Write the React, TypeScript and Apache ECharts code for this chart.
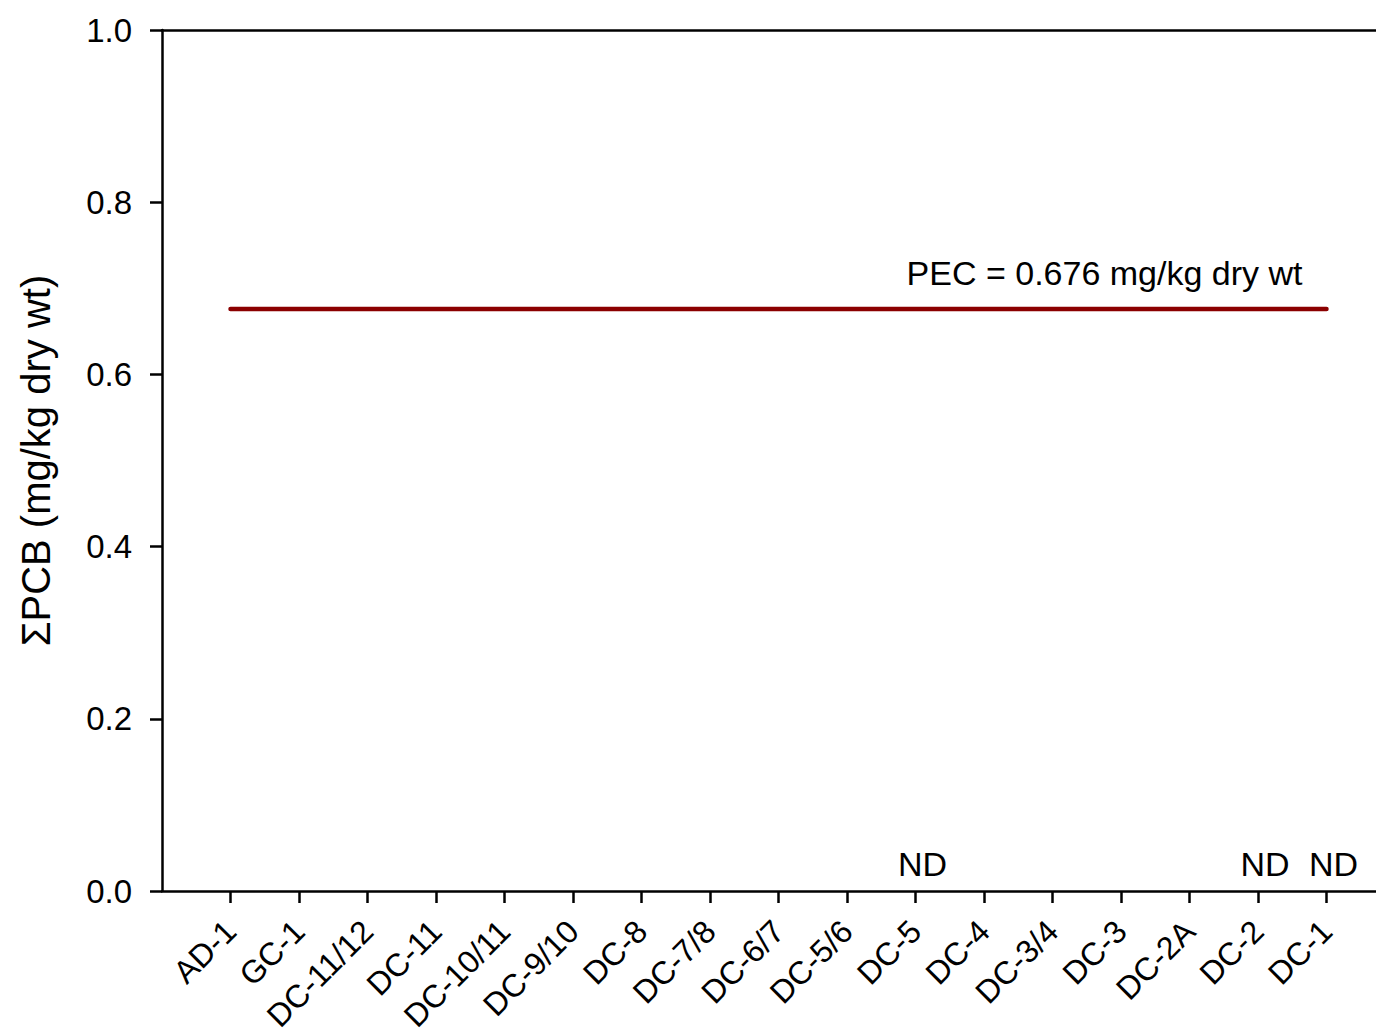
import React, { useEffect, useRef } from "react";
import * as echarts from "echarts";

const stations = [
  "AD-1", "GC-1", "DC-11/12", "DC-11", "DC-10/11", "DC-9/10", "DC-8", "DC-7/8",
  "DC-6/7", "DC-5/6", "DC-5", "DC-4", "DC-3/4", "DC-3", "DC-2A", "DC-2", "DC-1",
];
const ndStations = ["DC-5", "DC-2", "DC-1"];
const pecValue = 0.676;
const pecLabel = "PEC = 0.676 mg/kg dry wt";
const yTicks = [0, 0.2, 0.4, 0.6, 0.8, 1.0];
const yTitle = "ΣPCB (mg/kg dry wt)";

// padded categories so the plot frame starts one step before the first station
const categories = ["", ...stations, ""];

const FONT = "'Liberation Sans', Arial, Helvetica, sans-serif";

export default function App() {
  const ref = useRef<HTMLDivElement>(null);
  useEffect(() => {
    document.body.style.margin = "0";
    const chart = echarts.init(ref.current!, null, { renderer: "svg" });
    const axisColor = "#000";
    chart.setOption({
      animation: false,
      backgroundColor: "#fff",
      textStyle: { fontFamily: FONT },
      grid: {
        left: 162,
        top: 30,
        width: 1233,
        height: 861,
        containLabel: false,
        outerBoundsMode: "none",
      },
      xAxis: [
        {
          type: "category",
          data: categories,
          boundaryGap: false,
          axisLine: { lineStyle: { color: axisColor, width: 2.5 } },
          axisTick: {
            length: 12,
            interval: (i: number) => i > 0 && i < categories.length - 1,
            lineStyle: { color: axisColor, width: 2.5 },
          },
          axisLabel: {
            interval: 0,
            rotate: 45,
            margin: 35,
            fontSize: 32,
            color: "#000",
            fontFamily: FONT,
          },
          splitLine: { show: false },
        },
        {
          type: "category",
          data: categories,
          boundaryGap: false,
          position: "top",
          axisLine: { lineStyle: { color: axisColor, width: 2.5 } },
          axisTick: { show: false },
          axisLabel: { show: false },
        },
      ],
      yAxis: {
        type: "value",
        min: yTicks[0],
        max: yTicks[yTicks.length - 1],
        interval: 0.2,
        name: yTitle,
        nameLocation: "middle",
        nameGap: 106,
        nameTextStyle: { fontSize: 40, color: "#000", fontFamily: FONT },
        axisLine: { show: true, lineStyle: { color: axisColor, width: 2.5 } },
        axisTick: { show: true, length: 12, lineStyle: { color: axisColor, width: 2.5 } },
        axisLabel: {
          margin: 30,
          fontSize: 33,
          color: "#000",
          fontFamily: FONT,
          formatter: (v: number) => v.toFixed(1),
        },
        splitLine: { show: false },
      },
      series: [
        {
          type: "line",
          data: stations.map((s) => [s, pecValue]),
          symbol: "none",
          lineStyle: { color: "#8b0000", width: 4.5, cap: "round" },
          z: 3,
        },
        {
          type: "scatter",
          data: [[stations[stations.length - 1], pecValue]],
          symbolSize: 0,
          itemStyle: { opacity: 1 },
          label: {
            show: true,
            formatter: pecLabel,
            position: "inside",
            align: "right",
            verticalAlign: "middle",
            offset: [-24, -36],
            fontSize: 34,
            color: "#000",
            opacity: 1,
            textBorderWidth: 0,
            fontFamily: FONT,
          },
        },
        {
          type: "scatter",
          data: ndStations.map((s) => [s, 0]),
          symbolSize: 0,
          itemStyle: { opacity: 1 },
          label: {
            show: true,
            formatter: "ND",
            position: "inside",
            align: "center",
            verticalAlign: "middle",
            offset: [7, -27],
            fontSize: 34,
            color: "#000",
            opacity: 1,
            textBorderWidth: 0,
            fontFamily: FONT,
          },
        },
      ],
    });
    return () => chart.dispose();
  }, []);
  return <div ref={ref} style={{ width: 1376, height: 1032 }} />;
}
